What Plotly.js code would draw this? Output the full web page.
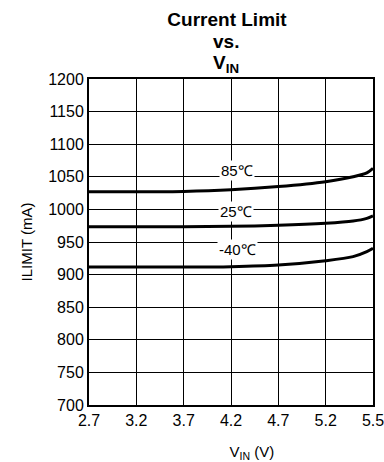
<!DOCTYPE html>
<html>
<head>
<meta charset="utf-8">
<script src="https://cdn.plot.ly/plotly-3.0.1.min.js"></script>
<style>html,body{margin:0;padding:0;background:#fff}#chart{width:384px;height:462px}</style>
</head>
<body>
<div id="chart"></div>
<script>
// x positions are in axis units: evenly spaced ticks, one unit per tick interval
const xTickLabels = ['2.7', '3.2', '3.7', '4.2', '4.7', '5.2', '5.5'];
const xTickPos = [0, 1, 2, 3, 4, 5, 6];

const xPts = [0, 1, 2, 3, 4, 5, 5.58, 5.87, 6];
const i85 = [1027, 1027, 1027.5, 1030, 1035, 1042.5, 1050, 1056, 1063];
const i25 = [973.5, 973.5, 973.5, 974, 975.5, 978.7, 982.2, 986.3, 990];
const iM40 = [911.5, 911.5, 911.5, 912.2, 914.7, 921.3, 927.5, 935.1, 940.3];

const seriesNames = ['85℃', '25℃', '-40℃'];
const labelX = [3.13, 3.10, 3.13];
const labelY = [1060, 996.5, 938];

const titleLines = ['Current Limit', 'vs.', 'V<sub>IN</sub>'];

const series = [i85, i25, iM40];
const traces = series.map((ys, k) => ({
  type: 'scatter', mode: 'lines', x: xPts, y: ys, name: seriesNames[k],
  line: {color: '#000', width: 3, shape: 'spline', smoothing: 0.8},
  showlegend: false, hoverinfo: 'skip'
}));

const fontFam = 'Liberation Sans, Arial, Helvetica, sans-serif';
const annotations = seriesNames.map((t, k) => ({
  x: labelX[k], y: labelY[k], xref: 'x', yref: 'y', text: t, showarrow: false,
  font: {family: fontFam, size: 15, color: '#000'}, bgcolor: '#fff', borderpad: 1
}));
// second and third title lines (tighter line spacing than a <br> title allows)
const titleLineY = [1.116, 1.047];
[1, 2].forEach((i, k) => annotations.push({
  xref: 'paper', yref: 'paper', x: 0.482, y: titleLineY[k], xanchor: 'center', yanchor: 'middle',
  text: '<b>' + titleLines[i] + '</b>', showarrow: false,
  font: {family: fontFam, size: 19, color: '#000'}
}));

const layout = {
  width: 384, height: 462,
  margin: {l: 89, r: 11, t: 79, b: 57},
  paper_bgcolor: '#fff', plot_bgcolor: '#fff',
  font: {family: fontFam, size: 15, color: '#000'},
  title: {
    text: '<b>' + titleLines[0] + '</b>',
    font: {family: fontFam, size: 19, color: '#000'},
    x: 227 / 384, xanchor: 'center', y: 1 - 19 / 462, yanchor: 'middle'
  },
  xaxis: {
    range: [0, 6], tickvals: xTickPos, ticktext: xTickLabels,
    showgrid: true, gridcolor: '#000', gridwidth: 1,
    showline: true, linecolor: '#000', linewidth: 2, mirror: true,
    ticks: '', zeroline: false, fixedrange: true, ticklabeloverflow: 'allow',
    tickfont: {family: fontFam, size: 16, color: '#000'},
    title: {text: '&nbsp;&nbsp;&nbsp;&nbsp;&nbsp;&nbsp;&nbsp;&nbsp;&nbsp;&nbsp;V<sub>IN</sub> (V)', font: {family: fontFam, size: 15, color: '#000'}, standoff: 21}
  },
  yaxis: {
    range: [700, 1200], tickvals: [700, 750, 800, 850, 900, 950, 1000, 1050, 1100, 1150, 1200],
    showgrid: true, gridcolor: '#000', gridwidth: 1,
    showline: true, linecolor: '#000', linewidth: 2, mirror: true,
    ticks: '', zeroline: false, fixedrange: true,
    tickfont: {family: fontFam, size: 16, color: '#000'},
    title: {text: 'ILIMIT (mA)', font: {family: fontFam, size: 15, color: '#000'}, standoff: 12}
  },
  annotations: annotations
};

Plotly.newPlot('chart', traces, layout, {displayModeBar: false, staticPlot: true});
</script>
</body>
</html>
